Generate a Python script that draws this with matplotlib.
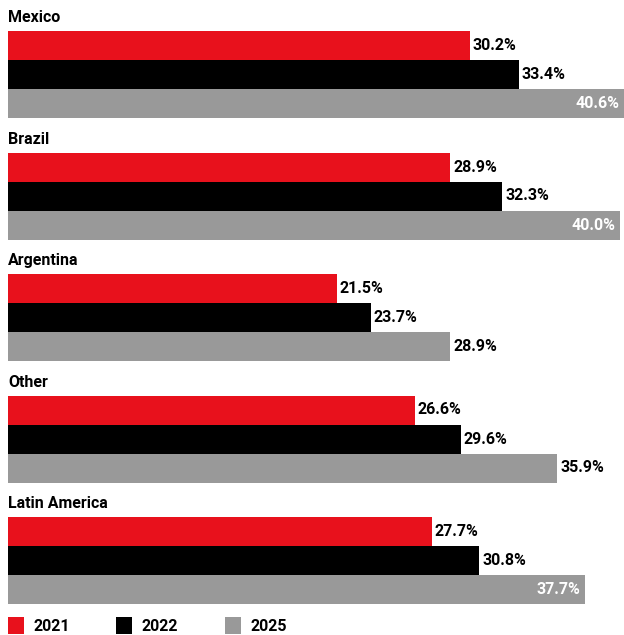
import numpy as np
import matplotlib.pyplot as plt
from matplotlib.patches import Patch

regions = ['Mexico', 'Brazil', 'Argentina', 'Other', 'Latin America']
years = ['2021', '2022', '2025']
v2021 = [30.2, 28.9, 21.5, 26.6, 27.7]
v2022 = [33.4, 32.3, 23.7, 29.6, 30.8]
v2025 = [40.6, 40.0, 28.9, 35.9, 37.7]

colors = ['#e8111c', '#000000', '#999999']
plt.rcParams['font.family'] = ['Roboto', 'DejaVu Sans']

fig = plt.figure(figsize=(6.24, 6.35), dpi=100)
# axes spans the figure from the bar origin; y in pixel units, top down
ax = fig.add_axes([8 / 624, 0, 1 - 8 / 624, 1])
ax.set_xlim(0, 40.25)
ax.set_ylim(635, 0)
ax.axis('off')

group_top = 31
group_step = 121.5
bar_h = 29

for i, reg in enumerate(regions):
    top = group_top + i * group_step
    ax.text(0, top - 13, reg, fontsize=11.5, fontweight='bold', va='center', ha='left')
    for j, vals in enumerate([v2021, v2022, v2025]):
        y = top + j * bar_h + bar_h / 2
        v = vals[i]
        ax.barh(y, v, height=bar_h, color=colors[j], edgecolor='none')
        lab = f'{v:.1f}%'
        if v > 36.5:
            ax.annotate(lab, (min(v, 40.25), y), xytext=(-3, 0), textcoords='offset points',
                        ha='right', va='center', fontsize=11.5, fontweight='bold', color='white')
        else:
            ax.annotate(lab, (v, y), xytext=(2, 0), textcoords='offset points',
                        ha='left', va='center', fontsize=11.5, fontweight='bold', color='black')

handles = [Patch(facecolor=c, edgecolor='none', label=yr) for c, yr in zip(colors, years)]
fig.legend(handles=handles, loc='lower left', bbox_to_anchor=(8 / 624, 0.002), ncol=3, frameon=False,
           handlelength=1.0, handleheight=1.2, handletextpad=0.6, borderpad=0, borderaxespad=0,
           columnspacing=2.9, prop={'weight': 'bold', 'size': 11.5})

fig.savefig('out.png', dpi=100)
